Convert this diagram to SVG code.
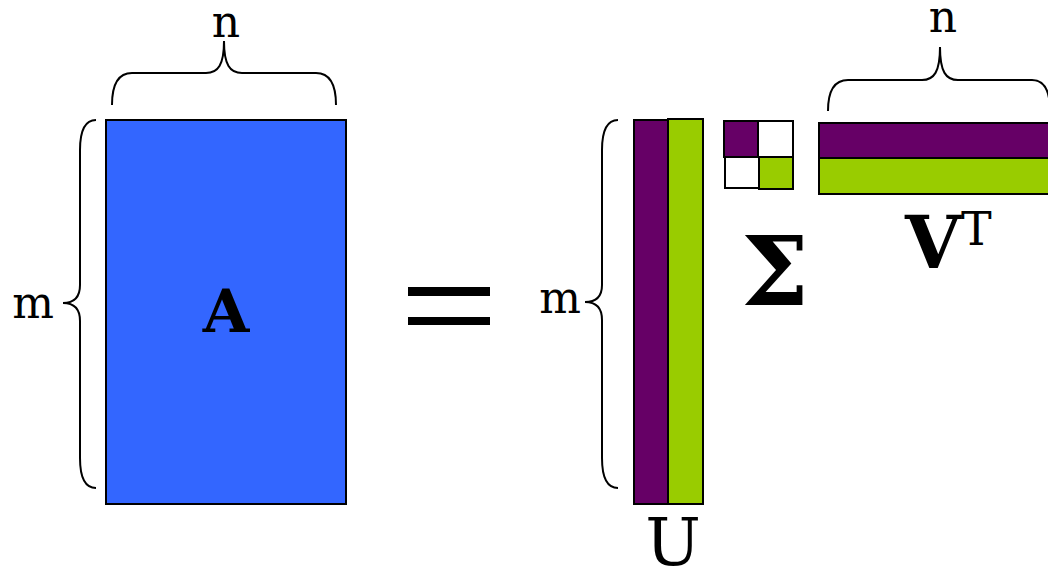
<svg xmlns="http://www.w3.org/2000/svg" width="1048" height="567" viewBox="0 0 1048 567">
<style>
.t{font-family:"DejaVu Serif",serif;fill:#000}
.b{font-weight:bold}
.br{fill:none;stroke:#000;stroke-width:2}
.k{stroke:#000;stroke-width:2}
.pu{fill:#660066}
.gr{fill:#99CC00}
.wh{fill:#fff}
</style>
<rect width="1048" height="567" fill="#fff"/>
<g id="matrixA">
<rect x="106" y="120" width="240" height="384" fill="#3366FF" class="k"/>
<text class="t b" x="226" y="332" font-size="60" text-anchor="middle">A</text>
</g>
<g id="braceA-n">
<path class="br" d="M112,105 C112,85 118,73 132,73 L206,73 C218,73 224,65 224,41 C224,65 230,73 242,73 L316,73 C330,73 336,85 336,105"/>
<text class="t" x="226" y="37" font-size="44" text-anchor="middle">n</text>
</g>
<g id="braceA-m">
<path class="br" d="M96,120 C86,120 80,130 80,150 L80,285 C80,297 74,303 63,303 C74,303 80,309 80,321 L80,458 C80,478 86,488 96,488"/>
<text class="t" x="33" y="318" font-size="44" text-anchor="middle">m</text>
</g>
<g id="equals">
<rect x="408" y="287" width="82" height="9"/>
<rect x="408" y="317" width="82" height="8"/>
</g>
<g id="matrixU">
<rect x="634" y="120" width="34" height="384" class="pu k"/>
<rect x="668" y="119" width="35" height="385" class="gr k"/>
<text class="t" x="673" y="565" font-size="66" text-anchor="middle">U</text>
</g>
<g id="braceU-m">
<path class="br" d="M618,120 C608,120 602,130 602,150 L602,285 C602,296 596,302 585,302 C596,302 602,308 602,320 L602,458 C602,478 608,488 618,488"/>
<text class="t" x="560" y="313" font-size="44" text-anchor="middle">m</text>
</g>
<g id="matrixSigma">
<rect x="724" y="121" width="34" height="36" class="pu k"/>
<rect x="758" y="121" width="35" height="36" class="wh k"/>
<rect x="725" y="157" width="34" height="31" class="wh k"/>
<rect x="759" y="157" width="34" height="32" class="gr k"/>
<text class="t b" x="775" y="305" font-size="96" text-anchor="middle">Σ</text>
</g>
<g id="matrixVT">
<rect x="819" y="123" width="240" height="35" class="pu k"/>
<rect x="819" y="158" width="240" height="36" class="gr k"/>
<text class="t b" x="905" y="268" font-size="72">V<tspan font-size="46" font-weight="normal" dy="-23">T</tspan></text>
</g>
<g id="braceVT-n">
<path class="br" d="M828,111 C828,91 834,80 848,80 L922,80 C934,80 940,72 940,47 C940,72 946,80 958,80 L1032,80 C1044,80 1050,91 1050,111"/>
<text class="t" x="943" y="32" font-size="44" text-anchor="middle">n</text>
</g>
</svg>
